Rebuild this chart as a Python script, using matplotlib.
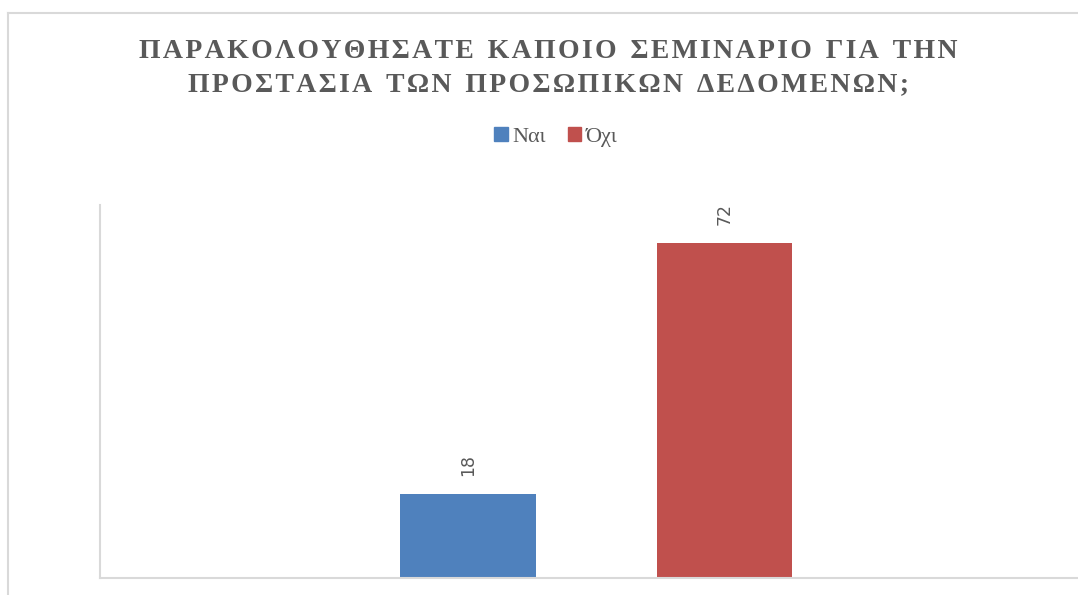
import matplotlib
matplotlib.use("Agg")
import matplotlib.pyplot as plt
from matplotlib.patches import Patch
from matplotlib.lines import Line2D

title_lines = ["ΠΑΡΑΚΟΛΟΥΘΗΣΑΤΕ ΚΑΠΟΙΟ ΣΕΜΙΝΑΡΙΟ ΓΙΑ ΤΗΝ",
               "ΠΡΟΣΤΑΣΙΑ ΤΩΝ ΠΡΟΣΩΠΙΚΩΝ ΔΕΔΟΜΕΝΩΝ;"]
series = ["Ναι", "Όχι"]
values = [18, 72]
colors = ["#4f81bd", "#c0504d"]

W, H = 1078, 595
fig = plt.figure(figsize=(W / 100, H / 100), dpi=100)
fig.patch.set_facecolor("white")

# outer border (left and top visible)
fig.add_artist(Line2D([8 / W, 8 / W], [0, 1 - 13 / H], color="#d9d9d9", lw=1.5, transform=fig.transFigure))
fig.add_artist(Line2D([8 / W, 1], [1 - 13 / H, 1 - 13 / H], color="#d9d9d9", lw=1.5, transform=fig.transFigure))

ax = fig.add_axes([100 / W, 1 - 578 / H, 1 - 100 / W, (578 - 205) / H])
unit = 256.5
center_px = 596
xmin = (100 - center_px) / unit
xmax = (W - center_px) / unit
ax.set_xlim(xmin, xmax)
ax.set_ylim(0, 80.2)

width = 135.5 / unit
offsets = [-0.5, 0.5]
for off, v, c, name in zip(offsets, values, colors, series):
    ax.bar(off, v, width=width, color=c, label=name, zorder=2)
    ax.text(off, v + 3.9, str(v), rotation=90, ha="center", va="bottom",
            fontsize=12.5, color="#595959", family="DejaVu Sans")

for s in ["top", "right"]:
    ax.spines[s].set_visible(False)
for s in ["left", "bottom"]:
    ax.spines[s].set_color("#d9d9d9")
    ax.spines[s].set_linewidth(1.5)
ax.set_xticks([])
ax.set_yticks([])

def spaced(s):
    out = []
    for word in s.split(" "):
        out.append("\u200a".join(word))
    return "\u2002".join(out)

ys = [51, 85]
for line, y in zip(title_lines, ys):
    fig.text(548 / W, 1 - y / H, spaced(line), ha="center", va="center",
             fontsize=20, fontweight="bold", color="#595959",
             family=["Liberation Serif", "DejaVu Serif"])

handles = [Patch(facecolor=c, edgecolor=c) for c in colors]
leg = fig.legend(handles, series, loc="center", bbox_to_anchor=(556 / W, 1 - 137 / H),
                 ncol=2, frameon=False, handlelength=0.6, handleheight=0.6,
                 handletextpad=0.2, columnspacing=1.0,
                 prop={"family": "Liberation Serif", "size": 16})
for t in leg.get_texts():
    t.set_color("#595959")

fig.savefig("out.png", dpi=100, facecolor="white")
